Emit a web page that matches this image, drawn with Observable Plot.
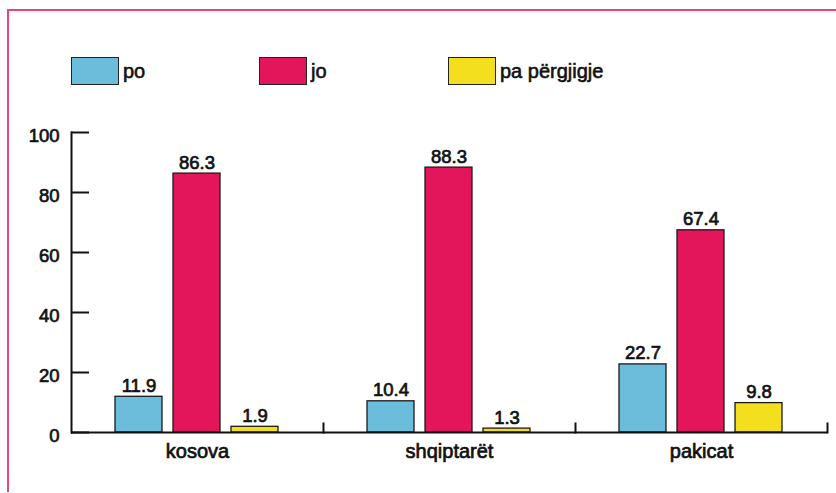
<!DOCTYPE html>
<html>
<head>
<meta charset="utf-8">
<script src="https://cdn.jsdelivr.net/npm/d3@7"></script>
<script src="https://cdn.jsdelivr.net/npm/@observablehq/plot@0.6"></script>
<style>
  html, body { margin: 0; padding: 0; background: #fff; }
  #page { position: relative; width: 836px; height: 493px; overflow: hidden; background: #fff;
          font-family: "Liberation Sans", Arial, sans-serif; color: #111; }
  #border { position: absolute; left: 7px; top: 9px; right: -4px; bottom: 1px;
            border-top: 2px solid #e8457a; border-left: 2px solid #e8457a; }
  #chart { position: absolute; left: 0; top: 0; }
  #chart text { paint-order: stroke; stroke: #111; stroke-width: 0.7px; }
  .leg { position: absolute; top: 57px; display: flex; align-items: center; }
  .sw { width: 46px; height: 26px; border: 1px solid #222; box-sizing: content-box; }
  .lab { margin-left: 4px; font-size: 20px; -webkit-text-stroke: 0.6px #111; line-height: 26px; }
</style>
</head>
<body>
<div id="page">
  <div id="border"></div>
  <div id="chart"></div>
  <div id="legend"></div>
</div>
<script>
const categories = ["kosova", "shqiptarët", "pakicat"];
const series = ["po", "jo", "pa përgjigje"];
const poValues = [11.9, 10.4, 22.7];
const joValues = [86.3, 88.3, 67.4];
const paValues = [1.9, 1.3, 9.8];
const yTicks = [0, 20, 40, 60, 80, 100];
const seriesColors = ["#6cbddc", "#e3165c", "#f3df1e"];

const seriesValues = [poValues, joValues, paValues];
const data = [];
categories.forEach((c, i) => {
  series.forEach((s, j) => data.push({category: c, series: s, value: seriesValues[j][i]}));
});

const fontFamily = '"Liberation Sans", Arial, sans-serif';

const chart = Plot.plot({
  width: 836,
  height: 493,
  marginTop: 132,
  marginBottom: 61,
  marginLeft: 70,
  marginRight: 9,
  style: {fontFamily, fontSize: "18.5px", color: "#111", background: "transparent", overflow: "visible"},
  fx: {domain: categories, paddingInner: 0, paddingOuter: 0, label: null},
  x: {domain: series, paddingInner: 0.186, paddingOuter: 0.73, axis: null},
  y: {domain: [0, 100], label: null},
  color: {domain: series, range: seriesColors},
  marks: [
    Plot.barY(data, {fx: "category", x: "series", y: "value", fill: "series", stroke: "#1a1a1a", strokeWidth: 1.3}),
    Plot.text(data, {fx: "category", x: "series", y: "value", text: d => d3.format(".1f")(d.value),
                     dy: -11, fontSize: 18.5, fill: "#111"}),
    Plot.ruleY([0], {stroke: "#111", strokeWidth: 2}),
    Plot.frame({anchor: "right", stroke: "#111", strokeWidth: 2, insetTop: 291}),
    Plot.frame({anchor: "left", facetAnchor: "left", stroke: "#111", strokeWidth: 2}),
    Plot.axisY({ticks: yTicks, tickSize: -18, fill: "none", strokeWidth: 2, label: null}),
    Plot.axisY({ticks: yTicks, tickSize: 0, tickPadding: 12, stroke: "none", dy: 4, fontSize: 18.5, label: null}),
    Plot.axisFx({anchor: "bottom", tickSize: 0, tickPadding: 11, fontSize: 20, label: null})
  ]
});
document.getElementById("chart").appendChild(chart);

const legend = document.getElementById("legend");
const legendLeft = [71, 259, 448];
series.forEach((s, i) => {
  const item = document.createElement("div");
  item.className = "leg";
  item.style.left = legendLeft[i] + "px";
  const sw = document.createElement("div");
  sw.className = "sw";
  sw.style.background = seriesColors[i];
  const lab = document.createElement("span");
  lab.className = "lab";
  lab.textContent = s;
  item.appendChild(sw);
  item.appendChild(lab);
  legend.appendChild(item);
});
</script>
</body>
</html>
